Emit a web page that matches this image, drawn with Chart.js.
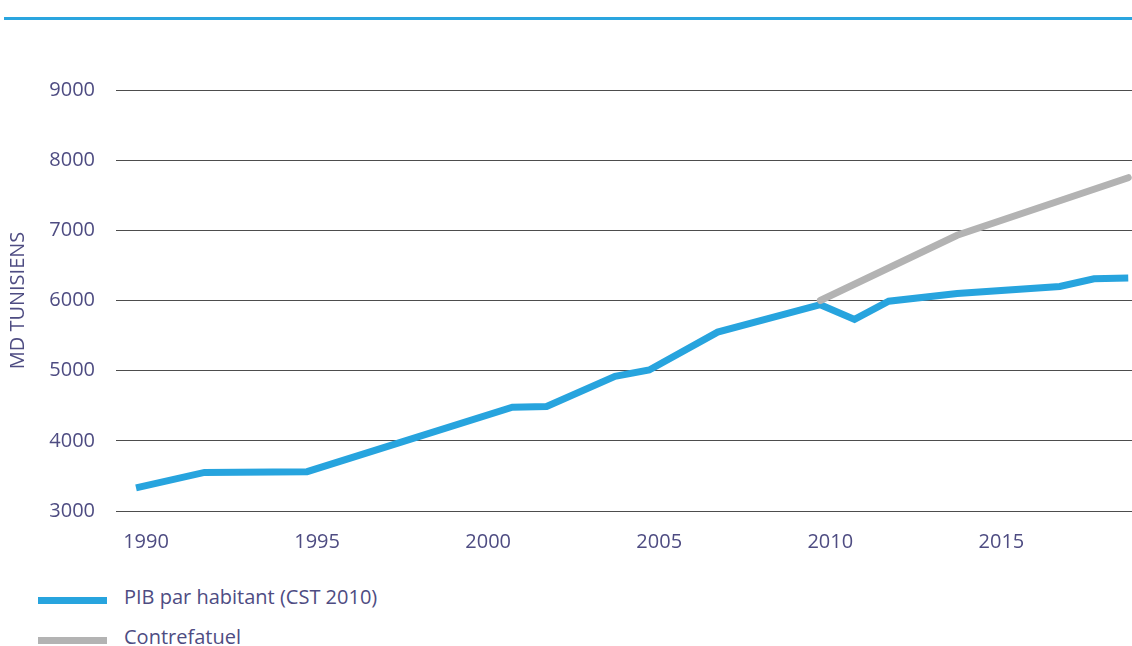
<!DOCTYPE html>
<html>
<head>
<meta charset="utf-8">
<script src="https://cdn.jsdelivr.net/npm/chart.js@4.4.1/dist/chart.umd.min.js"></script>
<style>
  html, body { margin: 0; padding: 0; background: #fff; }
  body { width: 1132px; height: 646px; position: relative; overflow: hidden; font-family: 'Open Sans', sans-serif; }
  .top-rule { position: absolute; left: 4px; right: 0; top: 17px; height: 3px; background: #2aa5df; }
  .chart-wrap { position: absolute; left: 0; top: 0; width: 1132px; height: 570px; }
  .legend-item { position: absolute; left: 38px; height: 40px; display: flex; align-items: center; }
  .legend-swatch { width: 69px; height: 7px; margin-right: 17px; }
  .legend-text { font-size: 20px; line-height: 24px; color: #4e4c82; white-space: nowrap; position: relative; top: -3px; }
</style>
</head>
<body>
<div class="top-rule"></div>
<div class="chart-wrap"><canvas id="pib-chart" width="1132" height="570"></canvas></div>
<div id="legend"></div>

<script>
// PIB par habitant, MD tunisiens
const pibYears = [1990, 1992, 1995, 2001, 2002, 2004, 2005, 2007, 2010, 2011, 2012, 2014, 2017, 2018, 2019];
const pibValues = [3330, 3550, 3560, 4480, 4490, 4920, 5010, 5550, 5940, 5730, 5990, 6100, 6200, 6310, 6320];

// Scénario contrefactuel à partir de 2010
const cfYears = [2010, 2014, 2019];
const cfValues = [6000, 6930, 7750];

const xTickYears = [1990, 1995, 2000, 2005, 2010, 2015];
const yTickValues = [3000, 4000, 5000, 6000, 7000, 8000, 9000];

const seriesLabels = ['PIB par habitant (CST 2010)', 'Contrefatuel'];
const seriesColors = ['#27a4de', '#b3b3b3'];

const textColor = '#4e4c82';
const fontFamily = "'Open Sans', sans-serif";

const toPoints = (xs, ys) => xs.map((x, i) => ({ x: x, y: ys[i] }));

const chart = new Chart(document.getElementById('pib-chart'), {
  type: 'line',
  data: {
    datasets: [
      {
        label: seriesLabels[0],
        data: toPoints(pibYears, pibValues),
        borderColor: seriesColors[0],
        borderWidth: 7,
        borderCapStyle: 'butt',
        pointRadius: 0,
        tension: 0,
        fill: false,
        order: 1
      },
      {
        label: seriesLabels[1],
        data: toPoints(cfYears, cfValues),
        borderColor: seriesColors[1],
        borderWidth: 7,
        borderCapStyle: 'round',
        pointRadius: 0,
        tension: 0,
        fill: false,
        order: 0
      }
    ]
  },
  options: {
    responsive: false,
    animation: false,
    devicePixelRatio: 1,
    layout: { padding: { top: 90, left: 0, right: 0, bottom: 0 } },
    plugins: {
      legend: { display: false },
      tooltip: { enabled: false }
    },
    scales: {
      x: {
        type: 'linear',
        min: 1989.415,
        max: 2019.11,
        afterBuildTicks: (scale) => {
          scale.ticks = xTickYears.map(v => ({ value: v }));
        },
        afterFit: (scale) => { scale.height = 59; },
        grid: { display: false, drawTicks: false },
        border: { display: false },
        ticks: {
          padding: 19,
          labelOffset: 10,
          maxRotation: 0,
          autoSkip: false,
          color: textColor,
          font: { family: fontFamily, size: 20 },
          callback: (value) => String(value)
        }
      },
      y: {
        min: 3000,
        max: 9000,
        afterBuildTicks: (scale) => {
          scale.ticks = yTickValues.map(v => ({ value: v }));
        },
        afterFit: (scale) => { scale.width = 116; },
        grid: { color: '#4d4d4d', lineWidth: 1, drawTicks: false },
        border: { display: false },
        ticks: {
          padding: 21,
          color: textColor,
          font: { family: fontFamily, size: 20 },
          callback: (value) => String(value)
        },
        title: {
          display: true,
          text: 'MD TUNISIENS',
          color: textColor,
          padding: { top: 6, bottom: 0 },
          font: { family: fontFamily, size: 20 }
        }
      }
    }
  }
});

// Legend built from the datasets
const legendEl = document.getElementById('legend');
const legendCenters = [600, 640];
chart.data.datasets.forEach((ds, i) => {
  const item = document.createElement('div');
  item.className = 'legend-item';
  item.style.top = (legendCenters[i] - 20) + 'px';
  const swatch = document.createElement('div');
  swatch.className = 'legend-swatch';
  swatch.style.background = ds.borderColor;
  const text = document.createElement('span');
  text.className = 'legend-text';
  text.textContent = ds.label;
  item.appendChild(swatch);
  item.appendChild(text);
  legendEl.appendChild(item);
});
</script>
</body>
</html>
